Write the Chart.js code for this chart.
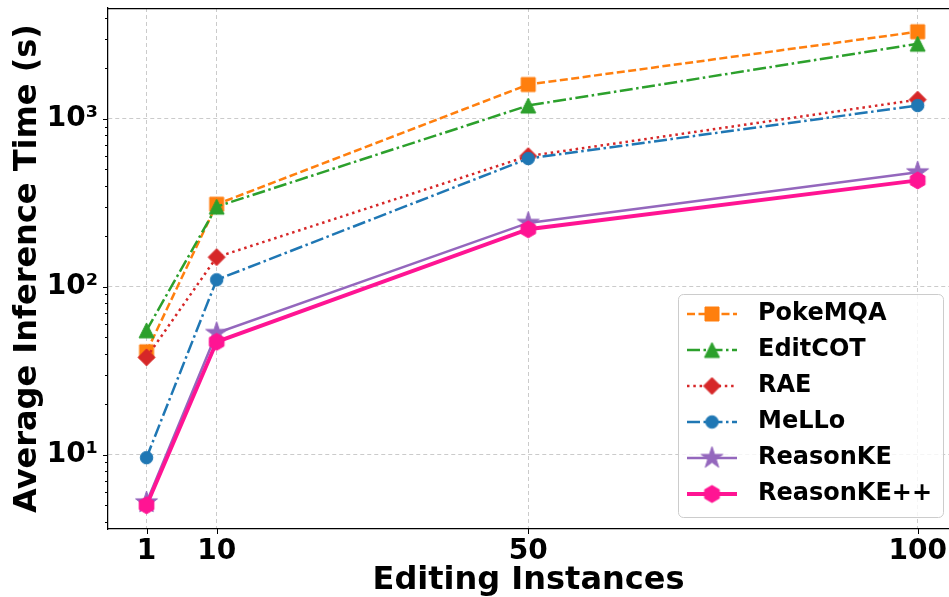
<!DOCTYPE html>
<html><head><meta charset="utf-8">
<script src="https://cdn.jsdelivr.net/npm/chart.js@4.4.0/dist/chart.umd.min.js"></script>
<style>
html,body{margin:0;padding:0;background:#fff;overflow:hidden;width:949px;height:597px}
#wrap{width:949px;height:597px}
</style></head>
<body><div id="wrap"><canvas id="c" width="949" height="597"></canvas></div>
<script>
// ---- data ----
const editingInstances = [1, 10, 50, 100];
const seriesNames = ['PokeMQA', 'EditCOT', 'RAE', 'MeLLo', 'ReasonKE', 'ReasonKE++'];
const pokeMQA    = [41, 310, 1600, 3300];
const editCOT    = [55, 300, 1200, 2800];
const rae        = [38, 150, 600, 1300];
const mello      = [9.6, 110, 580, 1200];
const reasonKE   = [5.2, 53, 240, 480];
const reasonKEpp = [5.0, 47, 220, 430];
const xTickValues = [1, 10, 50, 100];
const yMajorTicks = [10, 100, 1000];
const yMajorLabels = ['10¹', '10²', '10³'];

// ---- styles ----
const FONT = 'DejaVu Sans';
const styles = [
  {color:'#ff7f0e', shape:'square',   size:14,   width:2.5, dash:[8,3.5]},
  {color:'#2ca02c', shape:'triangle', size:15,   width:2.5, dash:[13,3.5,2.5,3.5]},
  {color:'#d62728', shape:'diamond',  size:17,   width:2.5, dash:[2.5,3.8]},
  {color:'#1f77b4', shape:'circle',   size:12.5, width:2.5, dash:[13,3.5,2.5,3.5]},
  {color:'#9467bd', shape:'star',     size:23,   width:2.5, dash:[]},
  {color:'#ff1493', shape:'hexagon',  size:17,   width:3.9, dash:[]},
];
const values = [pokeMQA, editCOT, rae, mello, reasonKE, reasonKEpp];

function markerCanvas(shape, color, size) {
  const pad = 3;
  const S = Math.ceil(size + pad * 2);
  const c = document.createElement('canvas');
  c.width = S; c.height = S;
  const g = c.getContext('2d');
  g.translate(S / 2, S / 2);
  const r = size / 2;
  g.beginPath();
  if (shape === 'square') g.rect(-r, -r, 2 * r, 2 * r);
  else if (shape === 'triangle') { g.moveTo(0, -r); g.lineTo(r, r); g.lineTo(-r, r); g.closePath(); }
  else if (shape === 'diamond') { g.moveTo(0, -r); g.lineTo(r, 0); g.lineTo(0, r); g.lineTo(-r, 0); g.closePath(); }
  else if (shape === 'circle') g.arc(0, 0, r, 0, Math.PI * 2);
  else if (shape === 'star') {
    for (let i = 0; i < 10; i++) {
      const ang = -Math.PI / 2 + i * Math.PI / 5;
      const rr = i % 2 ? r * 0.381966 : r;
      const px = Math.cos(ang) * rr, py = Math.sin(ang) * rr;
      if (i === 0) g.moveTo(px, py); else g.lineTo(px, py);
    }
    g.closePath();
  } else if (shape === 'hexagon') {
    for (let i = 0; i < 6; i++) {
      const ang = -Math.PI / 2 + i * Math.PI / 3;
      const px = Math.cos(ang) * r, py = Math.sin(ang) * r;
      if (i === 0) g.moveTo(px, py); else g.lineTo(px, py);
    }
    g.closePath();
  }
  g.fillStyle = color; g.fill();
  g.lineWidth = 1; g.strokeStyle = color; g.stroke();
  return c;
}
const markers = styles.map(s => markerCanvas(s.shape, s.color, s.size));

const datasets = seriesNames.map((name, i) => ({
  label: name,
  data: editingInstances.map((x, j) => ({x: x, y: values[i][j]})),
  borderColor: styles[i].color,
  backgroundColor: styles[i].color,
  borderWidth: styles[i].width,
  borderDash: styles[i].dash,
  pointStyle: markers[i],
  pointRadius: 6,
  tension: 0,
  fill: false,
  clip: false,
  order: seriesNames.length - 1 - i,
}));

const gridColor = 'rgba(185,185,185,0.75)';

const customPlugin = {
  id: 'custom',
  afterDraw(chart) {
    const {ctx, chartArea: a, scales: {x, y}} = chart;
    ctx.save();
    // tick marks
    ctx.strokeStyle = '#000'; ctx.lineWidth = 1;
    y.ticks.forEach(t => {
      const py = Math.round(y.getPixelForValue(t.value)) + 0.5;
      const len = yMajorTicks.includes(t.value) ? 5 : 3;
      ctx.beginPath(); ctx.moveTo(a.left - len, py); ctx.lineTo(a.left, py); ctx.stroke();
    });
    x.ticks.forEach(t => {
      const px = Math.round(x.getPixelForValue(t.value)) + 0.5;
      ctx.beginPath(); ctx.moveTo(px, a.bottom); ctx.lineTo(px, a.bottom + 5); ctx.stroke();
    });
    // top spine (right spine lies just outside the picture)
    ctx.lineWidth = 1.25;
    ctx.beginPath(); ctx.moveTo(a.left, a.top + 0.5); ctx.lineTo(a.right, a.top + 0.5); ctx.stroke();

    // legend
    const bw = 265, bh = 223;
    const bx = a.right - 271, by = a.bottom - 235;
    ctx.beginPath();
    ctx.roundRect(bx + 0.5, by + 0.5, bw, bh, 5);
    ctx.fillStyle = 'rgba(255,255,255,0.8)'; ctx.fill();
    ctx.strokeStyle = '#cccccc'; ctx.lineWidth = 1; ctx.stroke();
    seriesNames.forEach((name, i) => {
      const cy = by + 20 + i * 36;
      const st = styles[i];
      ctx.save();
      ctx.strokeStyle = st.color; ctx.lineWidth = st.width; ctx.setLineDash(st.dash);
      ctx.beginPath(); ctx.moveTo(bx + 9, cy); ctx.lineTo(bx + 59, cy); ctx.stroke();
      ctx.restore();
      const m = markers[i];
      ctx.drawImage(m, bx + 34 - m.width / 2, cy - m.height / 2);
      ctx.fillStyle = '#000';
      ctx.font = 'bold 24px "' + FONT + '"';
      ctx.textBaseline = 'middle'; ctx.textAlign = 'left';
      ctx.fillText(name, bx + 80, cy);
    });
    ctx.restore();
  }
};

new Chart(document.getElementById('c'), {
  type: 'line',
  data: {datasets},
  plugins: [customPlugin],
  options: {
    responsive: false,
    devicePixelRatio: 1,
    animation: false,
    events: [],
    layout: {autoPadding: false, padding: {left: 0, top: 8, right: 0, bottom: 0}},
    plugins: {legend: {display: false}, tooltip: {enabled: false}},
    scales: {
      x: {
        type: 'linear', min: -3.95, max: 104.02,
        afterBuildTicks: s => { s.ticks = xTickValues.map(v => ({value: v})); },
        afterFit: s => { s.height = 68; s.paddingLeft = 0; s.paddingRight = 0; },
        ticks: {color: '#000', font: {family: FONT, size: 28, weight: 'bold'}, padding: 6, autoSkip: false, maxRotation: 0,
                callback: v => String(v)},
        grid: {color: gridColor, lineWidth: 1, drawTicks: false},
        border: {display: true, color: '#000', width: 1.25, dash: [4, 3]},
        title: {display: true, text: 'Editing Instances', color: '#000',
                font: {family: FONT, size: 32, weight: 'bold', lineHeight: 1}, padding: {top: 0, bottom: 0}}
      },
      y: {
        type: 'logarithmic', min: 3.61, max: 4570,
        afterBuildTicks: s => {
          const t = [];
          for (let e = 0; e <= 3; e++) for (let k = 1; k <= 9; k++) {
            const v = k * Math.pow(10, e);
            if (v >= 3.61 && v <= 4570) t.push({value: v});
          }
          s.ticks = t;
        },
        afterFit: s => { s.width = 108; s.paddingTop = 0; s.paddingBottom = 0; },
        ticks: {color: '#000', font: {family: FONT, size: 28, weight: 'bold'}, padding: 10, autoSkip: false,
                callback: v => { const i = yMajorTicks.indexOf(v); return i >= 0 ? yMajorLabels[i] : ''; }},
        grid: {color: c => (c.tick && yMajorTicks.includes(c.tick.value)) ? gridColor : 'rgba(0,0,0,0)', lineWidth: 1, drawTicks: false},
        border: {display: true, color: '#000', width: 1.25, dash: [4, 3]},
        title: {display: true, text: 'Average Inference Time (s)', color: '#000',
                font: {family: FONT, size: 32, weight: 'bold', lineHeight: 1}, padding: {top: 12, bottom: 0}}
      }
    }
  }
});
</script></body></html>
